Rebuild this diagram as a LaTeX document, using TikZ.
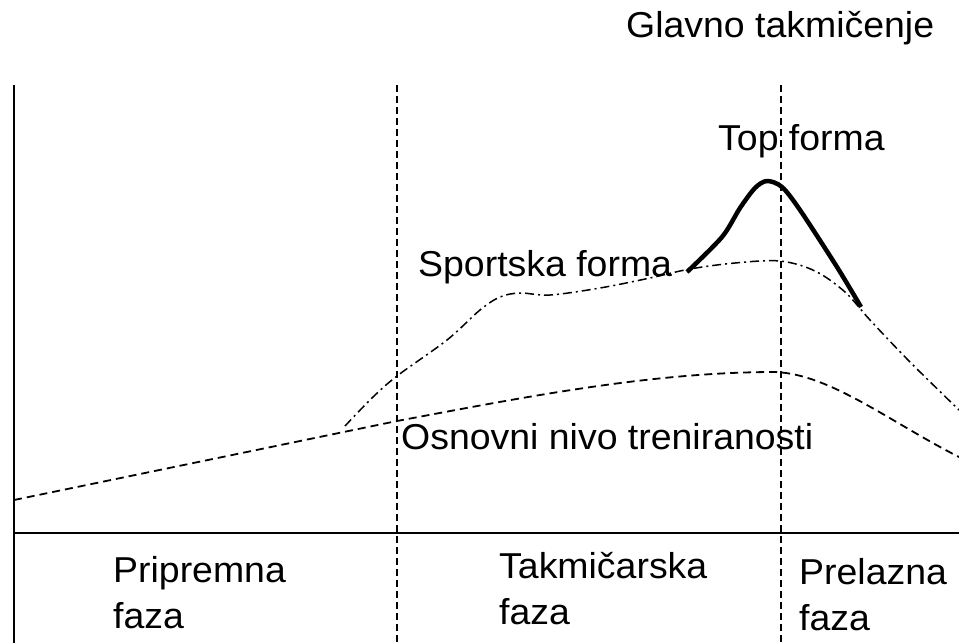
\documentclass[tikz,border=0pt]{standalone}
\usepackage{fontspec}
\setmainfont[FakeStretch=1.04]{Liberation Sans}
\begin{document}
\begin{tikzpicture}[x=1pt,y=-1pt,
  lbl/.style={inner sep=0pt,anchor=base west,font=\fontsize{36}{46}\selectfont},
  mlbl/.style={inner sep=0pt,anchor=north west,align=left,font=\fontsize{36}{46}\selectfont},
  axis/.style={line width=1.8pt,black},
  phase/.style={line width=1.6pt,dash pattern=on 7pt off 4pt},
  base/.style={line width=1.8pt,dash pattern=on 8pt off 5pt},
  sport/.style={line width=1.5pt,dash pattern=on 9pt off 4pt on 2pt off 4pt},
  top/.style={line width=4.5pt,line join=round}]
\useasboundingbox[fill=white] (0,0) rectangle (959,643);
% frame
\coordinate (ytop) at (14,85);
\coordinate (ybot) at (14,643);
\coordinate (xl) at (14,533);
\coordinate (xr) at (959,533);
\coordinate (d1t) at (397,85);
\coordinate (d1b) at (397,643);
\coordinate (d2t) at (781,85);
\coordinate (d2b) at (781,643);
\draw[axis] (ytop) -- (ybot);
\draw[axis] (xl) -- (xr);
\draw[phase] (d1t) -- (d1b);
\draw[phase] (d2t) -- (d2b);
% base level curve
\draw[base] (14,500) -- (397,421) .. controls (520,398) and (650,372) .. (775,372)
  .. controls (830,374) and (890,422) .. (959,457);
% sport form curve
\draw[sport] plot[smooth,tension=0.55] coordinates {(345,426) (372,398) (397,376) (447,340) (480,310) (500,297) (520,293) (550,295) (600,288) (650,278) (690,269) (735,263) (780,261) (815,271) (845,292) (870,320) (910,362) (959,410)};
% top form curve
\draw[top] plot[smooth,tension=0.5] coordinates {(687,272) (722,237) (740,208) (755,188) (767,181) (782,187) (800,210) (837,267) (861,307)};
% labels
\node[lbl] (glavno) at (626,37) {Glavno takmičenje};
\node[lbl] (topf) at (718,150) {Top forma};
\node[lbl] (sportf) at (418,276) {Sportska forma};
\node[lbl] (osn) at (401,449) {Osnovni nivo treniranosti};
\node[mlbl] (prip) at (113,549.8) {\strut Pripremna\\faza};
\node[mlbl] (takm) at (499,545.8) {\strut Takmičarska\\faza};
\node[mlbl] (prel) at (799,551.8) {\strut Prelazna\\faza};
\end{tikzpicture}
\end{document}
